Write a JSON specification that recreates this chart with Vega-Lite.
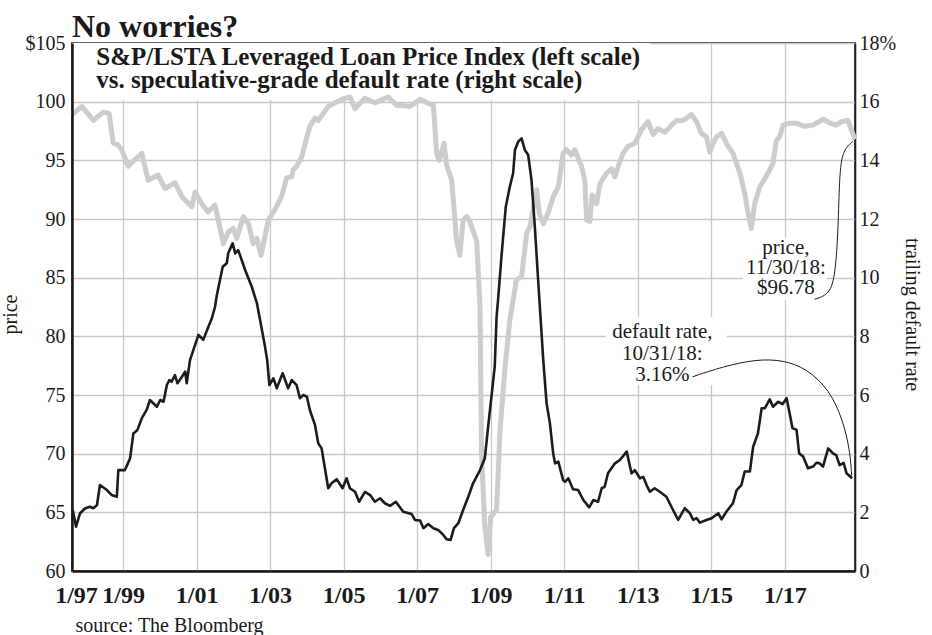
{
  "$schema": "https://vega.github.io/schema/vega-lite/v6.json",
  "width": 783,
  "height": 528,
  "autosize": {"type": "none"},
  "padding": {"left": 72, "top": 43, "right": 77, "bottom": 64},
  "background": "white",
  "config": {
    "font": "Liberation Serif",
    "view": {"stroke": "#444444", "strokeWidth": 2}
  },
  "title": {
    "text": "No worries?",
    "anchor": "start",
    "frame": "group",
    "offset": -11,
    "fontSize": 32,
    "fontWeight": "bold",
    "color": "#1a1a1a"
  },
  "datasets": {
    "one": [{}],
    "price": [
      {"year": 1997.61, "price": 98.9}, {"year": 1997.88, "price": 99.6}, {"year": 1998.19, "price": 98.4},
      {"year": 1998.46, "price": 99.1}, {"year": 1998.62, "price": 99.0}, {"year": 1998.73, "price": 96.5},
      {"year": 1998.86, "price": 96.3}, {"year": 1998.96, "price": 95.9}, {"year": 1999.14, "price": 94.5},
      {"year": 1999.27, "price": 94.9}, {"year": 1999.51, "price": 95.6}, {"year": 1999.68, "price": 93.3},
      {"year": 1999.95, "price": 93.75}, {"year": 2000.14, "price": 92.6}, {"year": 2000.41, "price": 93.1},
      {"year": 2000.60, "price": 91.9}, {"year": 2000.87, "price": 91.05}, {"year": 2000.96, "price": 92.3},
      {"year": 2001.14, "price": 91.3}, {"year": 2001.31, "price": 90.6}, {"year": 2001.50, "price": 91.2},
      {"year": 2001.73, "price": 87.9}, {"year": 2001.86, "price": 88.9}, {"year": 2002.00, "price": 89.2},
      {"year": 2002.09, "price": 88.35}, {"year": 2002.27, "price": 90.2}, {"year": 2002.41, "price": 89.6},
      {"year": 2002.54, "price": 87.9}, {"year": 2002.64, "price": 88.35}, {"year": 2002.75, "price": 86.9},
      {"year": 2002.95, "price": 89.9}, {"year": 2003.13, "price": 90.8}, {"year": 2003.31, "price": 91.9},
      {"year": 2003.45, "price": 93.5}, {"year": 2003.59, "price": 93.6}, {"year": 2003.63, "price": 94.2},
      {"year": 2003.72, "price": 94.5}, {"year": 2003.86, "price": 95.3}, {"year": 2004.00, "price": 97.0},
      {"year": 2004.08, "price": 97.9}, {"year": 2004.22, "price": 98.6}, {"year": 2004.31, "price": 98.4},
      {"year": 2004.58, "price": 99.6}, {"year": 2004.95, "price": 100.2}, {"year": 2005.17, "price": 100.4},
      {"year": 2005.31, "price": 99.4}, {"year": 2005.58, "price": 100.3}, {"year": 2005.85, "price": 99.9},
      {"year": 2006.21, "price": 100.4}, {"year": 2006.44, "price": 99.7}, {"year": 2006.80, "price": 99.6},
      {"year": 2007.08, "price": 100.2}, {"year": 2007.30, "price": 99.85}, {"year": 2007.44, "price": 99.7},
      {"year": 2007.53, "price": 95.6}, {"year": 2007.60, "price": 95.0}, {"year": 2007.73, "price": 96.45},
      {"year": 2007.80, "price": 94.6}, {"year": 2007.94, "price": 93.3}, {"year": 2008.07, "price": 88.2},
      {"year": 2008.16, "price": 86.9}, {"year": 2008.25, "price": 89.9}, {"year": 2008.35, "price": 90.2},
      {"year": 2008.43, "price": 89.8}, {"year": 2008.62, "price": 88.1}, {"year": 2008.71, "price": 82.5},
      {"year": 2008.75, "price": 70.0}, {"year": 2008.84, "price": 63.8}, {"year": 2008.93, "price": 61.4},
      {"year": 2009.00, "price": 64.6}, {"year": 2009.16, "price": 65.2}, {"year": 2009.25, "price": 71.8},
      {"year": 2009.39, "price": 77.4}, {"year": 2009.52, "price": 81.4}, {"year": 2009.61, "price": 83.1},
      {"year": 2009.70, "price": 84.8}, {"year": 2009.84, "price": 85.1}, {"year": 2009.98, "price": 88.8},
      {"year": 2010.07, "price": 89.35}, {"year": 2010.25, "price": 92.5}, {"year": 2010.32, "price": 90.5},
      {"year": 2010.43, "price": 89.6}, {"year": 2010.56, "price": 90.5}, {"year": 2010.70, "price": 91.9},
      {"year": 2010.84, "price": 92.75}, {"year": 2010.97, "price": 95.6}, {"year": 2011.06, "price": 95.9},
      {"year": 2011.20, "price": 95.45}, {"year": 2011.29, "price": 95.9}, {"year": 2011.47, "price": 94.5},
      {"year": 2011.56, "price": 93.3}, {"year": 2011.61, "price": 89.9}, {"year": 2011.70, "price": 89.8},
      {"year": 2011.76, "price": 92.05}, {"year": 2011.88, "price": 91.3}, {"year": 2011.97, "price": 93.0},
      {"year": 2012.15, "price": 93.9}, {"year": 2012.29, "price": 94.3}, {"year": 2012.38, "price": 93.6},
      {"year": 2012.47, "price": 94.5}, {"year": 2012.60, "price": 95.6}, {"year": 2012.74, "price": 96.2},
      {"year": 2012.92, "price": 96.45}, {"year": 2013.10, "price": 97.6}, {"year": 2013.28, "price": 98.3},
      {"year": 2013.42, "price": 97.2}, {"year": 2013.55, "price": 97.7}, {"year": 2013.74, "price": 97.4},
      {"year": 2013.92, "price": 98.0}, {"year": 2014.05, "price": 98.4}, {"year": 2014.23, "price": 98.4},
      {"year": 2014.33, "price": 98.6}, {"year": 2014.46, "price": 98.9}, {"year": 2014.60, "price": 98.3},
      {"year": 2014.73, "price": 97.3}, {"year": 2014.87, "price": 97.0}, {"year": 2014.96, "price": 95.7},
      {"year": 2015.05, "price": 96.45}, {"year": 2015.14, "price": 97.0}, {"year": 2015.28, "price": 97.3},
      {"year": 2015.41, "price": 96.45}, {"year": 2015.59, "price": 95.6}, {"year": 2015.78, "price": 93.9},
      {"year": 2015.91, "price": 92.2}, {"year": 2016.00, "price": 90.5}, {"year": 2016.09, "price": 89.2},
      {"year": 2016.18, "price": 91.3}, {"year": 2016.32, "price": 92.75}, {"year": 2016.41, "price": 93.2},
      {"year": 2016.54, "price": 93.9}, {"year": 2016.68, "price": 94.75}, {"year": 2016.77, "price": 96.7},
      {"year": 2016.86, "price": 97.0}, {"year": 2016.95, "price": 98.0}, {"year": 2017.13, "price": 98.15},
      {"year": 2017.32, "price": 98.15}, {"year": 2017.54, "price": 97.9}, {"year": 2017.77, "price": 98.0},
      {"year": 2018.04, "price": 98.5}, {"year": 2018.22, "price": 98.2}, {"year": 2018.40, "price": 98.0},
      {"year": 2018.54, "price": 98.3}, {"year": 2018.72, "price": 98.4}, {"year": 2018.81, "price": 97.6},
      {"year": 2018.91, "price": 96.78}
    ],
    "rate": [
      {"year": 1997.63, "rate": 2.08}, {"year": 1997.72, "rate": 1.51}, {"year": 1997.83, "rate": 1.97},
      {"year": 1997.97, "rate": 2.14}, {"year": 1998.10, "rate": 2.19}, {"year": 1998.19, "rate": 2.14},
      {"year": 1998.29, "rate": 2.25}, {"year": 1998.37, "rate": 2.93}, {"year": 1998.56, "rate": 2.76},
      {"year": 1998.69, "rate": 2.59}, {"year": 1998.83, "rate": 2.53}, {"year": 1998.87, "rate": 3.44},
      {"year": 1999.05, "rate": 3.44}, {"year": 1999.19, "rate": 3.84}, {"year": 1999.28, "rate": 4.69},
      {"year": 1999.39, "rate": 4.81}, {"year": 1999.51, "rate": 5.21}, {"year": 1999.64, "rate": 5.49},
      {"year": 1999.73, "rate": 5.83}, {"year": 1999.92, "rate": 5.6}, {"year": 2000.01, "rate": 5.83},
      {"year": 2000.10, "rate": 5.77}, {"year": 2000.19, "rate": 6.34}, {"year": 2000.26, "rate": 6.51},
      {"year": 2000.32, "rate": 6.45}, {"year": 2000.41, "rate": 6.68}, {"year": 2000.48, "rate": 6.4},
      {"year": 2000.60, "rate": 6.62}, {"year": 2000.69, "rate": 6.8}, {"year": 2000.73, "rate": 6.4},
      {"year": 2000.82, "rate": 7.19}, {"year": 2000.91, "rate": 7.53}, {"year": 2001.05, "rate": 8.05},
      {"year": 2001.18, "rate": 7.88}, {"year": 2001.32, "rate": 8.33}, {"year": 2001.41, "rate": 8.6},
      {"year": 2001.50, "rate": 9.0}, {"year": 2001.55, "rate": 9.4}, {"year": 2001.71, "rate": 10.37},
      {"year": 2001.82, "rate": 10.49}, {"year": 2001.86, "rate": 10.83}, {"year": 2001.98, "rate": 11.17},
      {"year": 2002.05, "rate": 10.83}, {"year": 2002.13, "rate": 10.94}, {"year": 2002.18, "rate": 10.77},
      {"year": 2002.32, "rate": 10.26}, {"year": 2002.50, "rate": 9.69}, {"year": 2002.64, "rate": 9.13},
      {"year": 2002.72, "rate": 8.6}, {"year": 2002.86, "rate": 7.65}, {"year": 2002.92, "rate": 7.19},
      {"year": 2002.98, "rate": 6.34}, {"year": 2003.09, "rate": 6.57}, {"year": 2003.18, "rate": 6.23},
      {"year": 2003.34, "rate": 6.74}, {"year": 2003.49, "rate": 6.23}, {"year": 2003.59, "rate": 6.51},
      {"year": 2003.72, "rate": 6.34}, {"year": 2003.81, "rate": 5.89}, {"year": 2003.90, "rate": 6.0},
      {"year": 2004.00, "rate": 5.94}, {"year": 2004.08, "rate": 5.49}, {"year": 2004.22, "rate": 4.98},
      {"year": 2004.31, "rate": 4.35}, {"year": 2004.40, "rate": 4.18}, {"year": 2004.58, "rate": 2.82},
      {"year": 2004.67, "rate": 2.99}, {"year": 2004.81, "rate": 3.13}, {"year": 2004.97, "rate": 2.82},
      {"year": 2005.08, "rate": 3.16}, {"year": 2005.17, "rate": 2.82}, {"year": 2005.31, "rate": 2.7},
      {"year": 2005.42, "rate": 2.36}, {"year": 2005.58, "rate": 2.7}, {"year": 2005.72, "rate": 2.59},
      {"year": 2005.85, "rate": 2.36}, {"year": 2005.99, "rate": 2.48}, {"year": 2006.12, "rate": 2.31},
      {"year": 2006.26, "rate": 2.22}, {"year": 2006.42, "rate": 2.36}, {"year": 2006.62, "rate": 2.02},
      {"year": 2006.85, "rate": 1.94}, {"year": 2006.94, "rate": 1.74}, {"year": 2007.08, "rate": 1.72},
      {"year": 2007.17, "rate": 1.46}, {"year": 2007.30, "rate": 1.6}, {"year": 2007.44, "rate": 1.46},
      {"year": 2007.57, "rate": 1.40}, {"year": 2007.71, "rate": 1.23}, {"year": 2007.80, "rate": 1.08},
      {"year": 2007.91, "rate": 1.06}, {"year": 2008.00, "rate": 1.46}, {"year": 2008.12, "rate": 1.63},
      {"year": 2008.25, "rate": 2.08}, {"year": 2008.39, "rate": 2.53}, {"year": 2008.52, "rate": 2.99},
      {"year": 2008.71, "rate": 3.44}, {"year": 2008.84, "rate": 3.84}, {"year": 2008.93, "rate": 4.92},
      {"year": 2009.02, "rate": 5.94}, {"year": 2009.11, "rate": 6.97}, {"year": 2009.16, "rate": 8.67},
      {"year": 2009.20, "rate": 9.24}, {"year": 2009.30, "rate": 10.83}, {"year": 2009.41, "rate": 12.42},
      {"year": 2009.52, "rate": 13.1}, {"year": 2009.61, "rate": 13.56}, {"year": 2009.66, "rate": 14.35},
      {"year": 2009.75, "rate": 14.64}, {"year": 2009.84, "rate": 14.75}, {"year": 2009.93, "rate": 14.35},
      {"year": 2010.02, "rate": 14.18}, {"year": 2010.11, "rate": 13.33}, {"year": 2010.20, "rate": 11.74},
      {"year": 2010.29, "rate": 9.92}, {"year": 2010.43, "rate": 7.19}, {"year": 2010.52, "rate": 5.72},
      {"year": 2010.61, "rate": 5.04}, {"year": 2010.70, "rate": 4.01}, {"year": 2010.75, "rate": 3.67},
      {"year": 2010.84, "rate": 3.73}, {"year": 2010.97, "rate": 3.1}, {"year": 2011.02, "rate": 3.04},
      {"year": 2011.11, "rate": 3.16}, {"year": 2011.24, "rate": 2.79}, {"year": 2011.38, "rate": 2.76},
      {"year": 2011.52, "rate": 2.42}, {"year": 2011.68, "rate": 2.17}, {"year": 2011.79, "rate": 2.42},
      {"year": 2011.92, "rate": 2.36}, {"year": 2012.02, "rate": 2.82}, {"year": 2012.10, "rate": 2.87},
      {"year": 2012.19, "rate": 3.33}, {"year": 2012.38, "rate": 3.67}, {"year": 2012.51, "rate": 3.78},
      {"year": 2012.70, "rate": 4.07}, {"year": 2012.83, "rate": 3.33}, {"year": 2012.92, "rate": 3.44},
      {"year": 2013.06, "rate": 3.16}, {"year": 2013.15, "rate": 3.21}, {"year": 2013.24, "rate": 2.93},
      {"year": 2013.33, "rate": 2.7}, {"year": 2013.46, "rate": 2.82}, {"year": 2013.60, "rate": 2.7},
      {"year": 2013.78, "rate": 2.53}, {"year": 2013.96, "rate": 2.08}, {"year": 2014.10, "rate": 1.74},
      {"year": 2014.28, "rate": 2.14}, {"year": 2014.42, "rate": 1.97}, {"year": 2014.51, "rate": 1.74},
      {"year": 2014.60, "rate": 1.8}, {"year": 2014.69, "rate": 1.65}, {"year": 2014.87, "rate": 1.74},
      {"year": 2015.01, "rate": 1.8}, {"year": 2015.19, "rate": 1.97}, {"year": 2015.28, "rate": 1.76},
      {"year": 2015.41, "rate": 2.02}, {"year": 2015.59, "rate": 2.31}, {"year": 2015.69, "rate": 2.76},
      {"year": 2015.82, "rate": 2.93}, {"year": 2015.91, "rate": 3.39}, {"year": 2016.05, "rate": 3.39},
      {"year": 2016.14, "rate": 4.24}, {"year": 2016.27, "rate": 4.69}, {"year": 2016.37, "rate": 5.55},
      {"year": 2016.46, "rate": 5.55}, {"year": 2016.59, "rate": 5.85}, {"year": 2016.68, "rate": 5.6},
      {"year": 2016.82, "rate": 5.77}, {"year": 2016.94, "rate": 5.69}, {"year": 2017.05, "rate": 5.89},
      {"year": 2017.14, "rate": 5.32}, {"year": 2017.21, "rate": 4.87}, {"year": 2017.32, "rate": 4.81},
      {"year": 2017.39, "rate": 4.01}, {"year": 2017.50, "rate": 3.9}, {"year": 2017.63, "rate": 3.5},
      {"year": 2017.77, "rate": 3.56}, {"year": 2017.86, "rate": 3.69}, {"year": 2017.95, "rate": 3.67},
      {"year": 2018.04, "rate": 3.56}, {"year": 2018.18, "rate": 4.18}, {"year": 2018.31, "rate": 4.01},
      {"year": 2018.40, "rate": 3.95}, {"year": 2018.49, "rate": 3.61}, {"year": 2018.60, "rate": 3.69},
      {"year": 2018.68, "rate": 3.33}, {"year": 2018.83, "rate": 3.16}
    ],
    "priceLeader": [
      {"year": 2017.81, "price": 83.16}, {"year": 2018.18, "price": 83.52}, {"year": 2018.36, "price": 84.8},
      {"year": 2018.45, "price": 88.78}, {"year": 2018.48, "price": 93.04}, {"year": 2018.54, "price": 95.31},
      {"year": 2018.68, "price": 96.16}, {"year": 2018.85, "price": 96.6}
    ],
    "rateLeader": [
      {"year": 2014.49, "rate": 6.62}, {"year": 2015.32, "rate": 6.97}, {"year": 2016.23, "rate": 7.22},
      {"year": 2016.95, "rate": 7.19}, {"year": 2017.59, "rate": 6.91}, {"year": 2018.22, "rate": 6.17},
      {"year": 2018.58, "rate": 5.15}, {"year": 2018.77, "rate": 4.13}, {"year": 2018.82, "rate": 3.25}
    ]
  },
  "layer": [
    {
      "layer": [
        {
          "data": {"name": "one"},
          "mark": {"type": "rect", "fill": "white"},
          "encoding": {
            "x": {"datum": 1997.61, "type": "quantitative"},
            "x2": {"datum": 2013.33},
            "y": {"datum": 100.15, "type": "quantitative"},
            "y2": {"datum": 105}
          }
        },
        {
          "data": {"name": "one"},
          "mark": {"type": "rect", "fill": "white"},
          "encoding": {
            "x": {"datum": 2015.86, "type": "quantitative"},
            "x2": {"datum": 2018.14},
            "y": {"datum": 83.1, "type": "quantitative"},
            "y2": {"datum": 88.38}
          }
        },
        {
          "data": {"name": "price"},
          "mark": {"type": "line", "color": "#cdcdcd", "strokeWidth": 5, "strokeJoin": "round"},
          "encoding": {
            "x": {
              "field": "year",
              "type": "quantitative",
              "scale": {"domain": [1997.61, 2018.91], "nice": false, "zero": false},
              "axis": {
                "orient": "bottom",
                "values": [1997.61, 1999, 2001, 2003, 2005, 2007, 2009, 2011, 2013, 2015, 2017],
                "labelExpr": "datum.value < 1998 ? '1/97' : '1/' + substring(toString(datum.value), 2, 4)",
                "labelOffset": {"condition": {"test": "datum.value < 1998", "value": 4}, "value": 0},
                "grid": true,
                "gridColor": "#c8c8c8",
                "gridWidth": 1.3,
                "ticks": false,
                "domainColor": "#1a1a1a",
                "domainWidth": 2.5,
                "labelFontSize": 24,
                "labelFontWeight": "bold",
                "labelColor": "#1a1a1a",
                "labelPadding": 12,
                "labelFlush": false,
                "labelOverlap": false,
                "title": "source: The Bloomberg",
                "titleAnchor": "start",
                "titleAlign": "left",
                "titleBaseline": "alphabetic",
                "titleFontSize": 20,
                "titleFontWeight": "normal",
                "titleColor": "#1a1a1a",
                "titleX": 3,
                "titleY": 60
              }
            },
            "y": {
              "field": "price",
              "type": "quantitative",
              "scale": {"domain": [60, 105], "nice": false, "zero": false},
              "axis": {
                "orient": "left",
                "values": [60, 65, 70, 75, 80, 85, 90, 95, 100, 105],
                "labelExpr": "datum.value == 105 ? '$105' : datum.label",
                "grid": false,
                "ticks": false,
                "domainColor": "#1a1a1a",
                "domainWidth": 2.5,
                "labelFontSize": 20,
                "labelColor": "#1a1a1a",
                "labelPadding": 7,
                "title": "price",
                "titleFontSize": 20,
                "titleFontWeight": "normal",
                "titleColor": "#1a1a1a",
                "titleX": -52,
                "titleY": 271,
                "zindex": 1
              }
            }
          }
        },
        {
          "data": {"name": "one"},
          "mark": {"type": "text", "align": "left", "baseline": "alphabetic", "fontSize": 25, "fontWeight": "bold", "lineHeight": 23, "color": "#1a1a1a"},
          "encoding": {
            "x": {"datum": 1998.27, "type": "quantitative"},
            "y": {"datum": 103.12, "type": "quantitative"},
            "text": {"value": ["S&P/LSTA Leveraged Loan Price Index (left scale)", "vs. speculative-grade default rate (right scale)"]}
          }
        },
        {
          "data": {"name": "one"},
          "mark": {"type": "text", "align": "center", "baseline": "alphabetic", "fontSize": 21, "lineHeight": 20, "color": "#1a1a1a"},
          "encoding": {
            "x": {"datum": 2017.03, "type": "quantitative"},
            "y": {"datum": 87.02, "type": "quantitative"},
            "text": {"value": ["price,", "11/30/18:", "$96.78"]}
          }
        },
        {
          "data": {"name": "priceLeader"},
          "mark": {"type": "line", "color": "#1a1a1a", "strokeWidth": 1, "interpolate": "basis"},
          "encoding": {
            "x": {"field": "year", "type": "quantitative"},
            "y": {"field": "price", "type": "quantitative"}
          }
        }
      ]
    },
    {
      "layer": [
        {
          "data": {"name": "one"},
          "mark": {"type": "rect", "fill": "white"},
          "encoding": {
            "x": {"datum": 2012.13, "type": "quantitative"},
            "x2": {"datum": 2015.42},
            "y": {"datum": 6.34, "type": "quantitative"},
            "y2": {"datum": 8.66}
          }
        },
        {
          "data": {"name": "rate"},
          "mark": {"type": "line", "color": "#1c1c1c", "strokeWidth": 2.6, "strokeJoin": "round"},
          "encoding": {
            "x": {"field": "year", "type": "quantitative"},
            "y": {
              "field": "rate",
              "type": "quantitative",
              "scale": {"domain": [0, 18], "nice": false, "zero": false},
              "axis": {
                "orient": "right",
                "values": [0, 2, 4, 6, 8, 10, 12, 14, 16, 18],
                "labelExpr": "datum.value == 18 ? '18%' : datum.label",
                "grid": true,
                "gridColor": "#c8c8c8",
                "gridWidth": 1.3,
                "ticks": false,
                "domainColor": "#222222",
                "domainWidth": 1.6,
                "labelFontSize": 20,
                "labelColor": "#1a1a1a",
                "labelPadding": 4,
                "title": "trailing default rate",
                "titleFontSize": 20,
                "titleFontWeight": "normal",
                "titleColor": "#1a1a1a",
                "titleX": 46,
                "titleY": 271
              }
            }
          }
        },
        {
          "data": {"name": "one"},
          "mark": {"type": "text", "align": "center", "baseline": "alphabetic", "fontSize": 21, "lineHeight": 21.5, "color": "#1a1a1a"},
          "encoding": {
            "x": {"datum": 2013.67, "type": "quantitative"},
            "y": {"datum": 7.94, "type": "quantitative"},
            "text": {"value": ["default rate,", "10/31/18:", "3.16%"]}
          }
        },
        {
          "data": {"name": "rateLeader"},
          "mark": {"type": "line", "color": "#1a1a1a", "strokeWidth": 1, "interpolate": "basis"},
          "encoding": {
            "x": {"field": "year", "type": "quantitative"},
            "y": {"field": "rate", "type": "quantitative"}
          }
        }
      ]
    }
  ],
  "resolve": {"scale": {"y": "independent"}}
}
